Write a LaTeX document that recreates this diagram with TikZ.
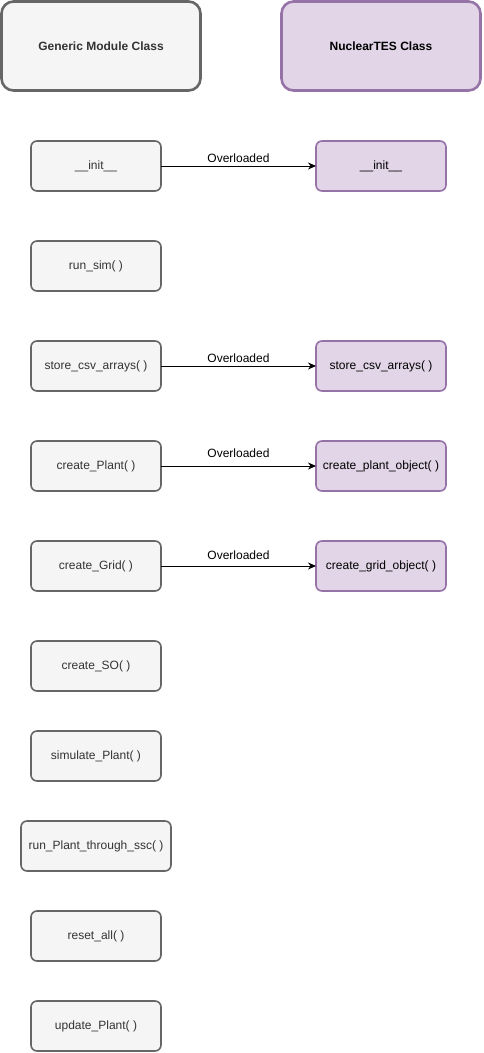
\documentclass[tikz,border=0pt]{standalone}
\usepackage{fontspec}
\setmainfont{Liberation Sans}
\usetikzlibrary{arrows.meta,positioning}
\definecolor{gborder}{HTML}{666666}
\definecolor{gfill}{HTML}{F5F5F5}
\definecolor{gtext}{HTML}{333333}
\definecolor{pborder}{HTML}{9673A6}
\definecolor{pfill}{HTML}{E1D5E7}

\begin{document}
\begin{tikzpicture}[
  x=1pt, y=-1pt,
  font=\fontsize{12}{14}\selectfont,
  header/.style={draw, rounded corners=12pt, line width=2.6pt, minimum width=199pt, minimum height=89pt, font=\fontsize{12}{14}\selectfont\bfseries},
  method/.style={draw=gborder, fill=gfill, text=gtext, rounded corners=6pt, line width=1.6pt, minimum width=130pt, minimum height=50pt, inner sep=2pt, outer sep=0pt},
  override/.style={method, draw=pborder, fill=pfill, text=black},
  arrow/.style={-{Stealth[length=8pt,width=7pt]}, line width=0.8pt},
  note/.style={above, inner sep=1pt, font=\fontsize{12}{14}\selectfont}
]
\useasboundingbox (0,0) rectangle (483,1053);

\node[header, draw=gborder, fill=gfill, text=gtext] (generic) at (101,46) {Generic Module Class};
\node[header, draw=pborder, fill=pfill, text=black] (nuclear) at (381,46) {NuclearTES Class};

% generic module methods
\node[method] (init) at (96,166) {\_\_init\_\_};
\node[method, below=50pt of init] (runsim) {run\_sim( )};
\node[method, below=50pt of runsim] (storecsv) {store\_csv\_arrays( )};
\node[method, below=50pt of storecsv] (plant) {create\_Plant( )};
\node[method, below=50pt of plant] (grid) {create\_Grid( )};
\node[method, below=50pt of grid] (so) {create\_SO( )};
\node[method, below=40pt of so] (simplant) {simulate\_Plant( )};
\node[method, below=40pt of simplant, minimum width=150pt] (runssc) {run\_Plant\_through\_ssc( )};
\node[method, below=40pt of runssc] (reset) {reset\_all( )};
\node[method, below=40pt of reset] (update) {update\_Plant( )};

% NuclearTES overloads
\node[override, right=155pt of init] (ninit) {\_\_init\_\_};
\node[override, right=155pt of storecsv] (nstorecsv) {store\_csv\_arrays( )};
\node[override, right=155pt of plant] (nplant) {create\_plant\_object( )};
\node[override, right=155pt of grid] (ngrid) {create\_grid\_object( )};

\draw[arrow] (init) -- node[note, yshift=2pt] {Overloaded} (ninit);
\draw[arrow] (storecsv) -- node[note, yshift=2pt] {Overloaded} (nstorecsv);
\draw[arrow] (plant) -- node[note, yshift=7pt] {Overloaded} (nplant);
\draw[arrow] (grid) -- node[note, yshift=5pt] {Overloaded} (ngrid);

\end{tikzpicture}
\end{document}
